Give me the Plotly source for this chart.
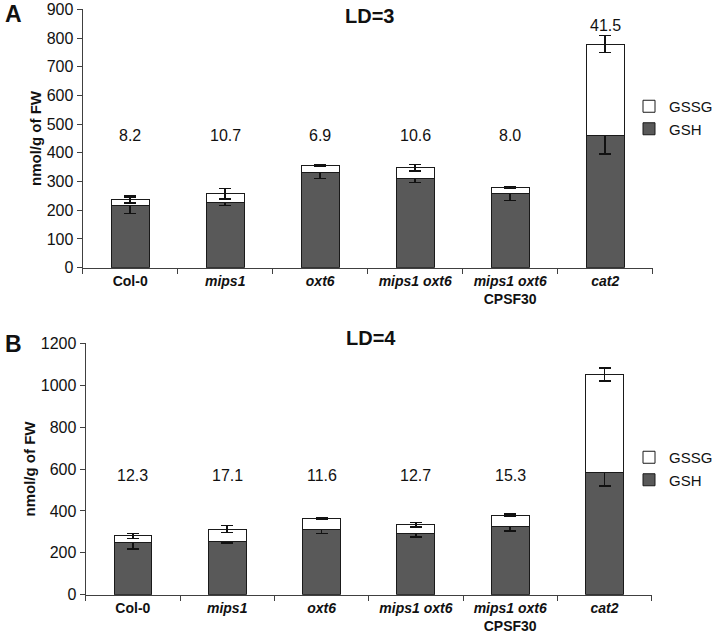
import plotly.graph_objects as go

categories = ["Col-0", "mips1", "oxt6", "mips1 oxt6", "mips1 oxt6 CPSF30", "cat2"]
tick_labels = ["<b>Col-0</b>", "<b><i>mips1</i></b>", "<b><i>oxt6</i></b>",
               "<b><i>mips1 oxt6</i></b>", "<b><i>mips1 oxt6</i></b><br><b>CPSF30</b>",
               "<b><i>cat2</i></b>"]

# Panel A (LD=3)
gsh_a = [218, 226, 332, 311, 257, 460]
gsh_err_a = [29, 10, 21, 15, 23, 64]
gssg_a = [20, 31, 25, 37, 22, 319]
gssg_err_a = [12, 18, 3, 12, 3, 30]
pct_a = [8.2, 10.7, 6.9, 10.6, 8.0, 41.5]

# Panel B (LD=4)
gsh_b = [250, 256, 312, 291, 326, 584]
gsh_err_b = [33, 9, 21, 16, 21, 65]
gssg_b = [31, 57, 50, 43, 54, 467]
gssg_err_b = [12, 17, 4, 11, 4, 32]
pct_b = [12.3, 17.1, 11.6, 12.7, 15.3, 44.9]

W, H = 714, 634
GSH_COLOR = "#595959"
LINE = "#1a1a1a"
FONT = "Arial, Liberation Sans, sans-serif"
TXT = "#111111"

fig = go.Figure()

def add_panel(gsh, gsh_err, gssg, gssg_err, xa, ya, leg):
    fig.add_trace(go.Bar(
        x=categories, y=gsh, name="GSH", xaxis=xa, yaxis=ya, legend=leg,
        marker=dict(color=GSH_COLOR, line=dict(color=LINE, width=1)),
        error_y=dict(type="data", array=gsh_err, color="#111111", thickness=1.5, width=6)))
    fig.add_trace(go.Bar(
        x=categories, y=gssg, name="GSSG", xaxis=xa, yaxis=ya, legend=leg,
        marker=dict(color="white", line=dict(color=LINE, width=1)),
        error_y=dict(type="data", array=gssg_err, color="#111111", thickness=1.5, width=6)))

add_panel(gsh_a, gsh_err_a, gssg_a, gssg_err_a, "x", "y", "legend")
add_panel(gsh_b, gsh_err_b, gssg_b, gssg_err_b, "x2", "y2", "legend2")

def px_x(p):
    return p / W

def px_y(p):
    return 1 - p / H

axis_common = dict(showline=True, linecolor="#404040", linewidth=1.2,
                   ticks="outside", tickcolor="#404040", ticklen=5,
                   showgrid=False, zeroline=False, automargin=False)
ytick_font = dict(family=FONT, size=16, color=TXT)
xtick_font = dict(family=FONT, size=14, color=TXT)
ytitle = dict(text="<b>nmol/g of FW</b>", font=dict(family=FONT, size=15, color=TXT), standoff=1)

fig.update_layout(
    width=W, height=H, barmode="stack", bargap=0.6,
    paper_bgcolor="white", plot_bgcolor="white",
    margin=dict(l=0, r=0, t=0, b=0, autoexpand=False),
    font=dict(family=FONT, color=TXT),
    xaxis=dict(domain=[px_x(82.7), px_x(652.7)], anchor="y", type="category",
               tickson="boundaries", tickvals=categories, ticktext=tick_labels,
               tickfont=xtick_font, **axis_common),
    yaxis=dict(domain=[px_y(267.7), px_y(9.3)], anchor="x", range=[0, 900], dtick=100,
               title=ytitle, tickfont=ytick_font, **axis_common),
    xaxis2=dict(domain=[px_x(85.7), px_x(651.7)], anchor="y2", type="category",
                tickson="boundaries", tickvals=categories, ticktext=tick_labels,
                tickfont=xtick_font, **axis_common),
    yaxis2=dict(domain=[px_y(594.7), px_y(343.3)], anchor="x2", range=[0, 1200], dtick=200,
                title=ytitle, tickfont=ytick_font, **axis_common),
    legend=dict(x=px_x(629), y=px_y(90), xanchor="left", yanchor="top",
                traceorder="reversed", font=dict(family=FONT, size=15, color=TXT),
                bgcolor="rgba(0,0,0,0)", itemwidth=30, tracegroupgap=0),
    legend2=dict(x=px_x(629), y=px_y(441), xanchor="left", yanchor="top",
                 traceorder="reversed", font=dict(family=FONT, size=15, color=TXT),
                 bgcolor="rgba(0,0,0,0)", itemwidth=30, tracegroupgap=0),
)

annotations = []
label_level_a, label_top_a = 459, 845
label_level_b, label_top_b = 571, 1227
for i, c in enumerate(categories):
    ya_pos = label_top_a if i == len(categories) - 1 else label_level_a
    annotations.append(dict(x=c, y=ya_pos, xref="x", yref="y", text=f"{pct_a[i]:.1f}",
                            xanchor="center", yanchor="middle",
                            showarrow=False, font=dict(family=FONT, size=16, color=TXT)))
    yb_pos = label_top_b if i == len(categories) - 1 else label_level_b
    annotations.append(dict(x=c, y=yb_pos, xref="x2", yref="y2", text=f"{pct_b[i]:.1f}",
                            xanchor="center", yanchor="middle",
                            showarrow=False, font=dict(family=FONT, size=16, color=TXT)))

def paper_text(x, y, text, size):
    return dict(x=px_x(x), y=px_y(y), xref="paper", yref="paper", text=text,
                xanchor="center", yanchor="middle", showarrow=False,
                font=dict(family=FONT, size=size, color=TXT))

annotations += [
    paper_text(369, 16, "<b>LD=3</b>", 20),
    paper_text(371, 338, "<b>LD=4</b>", 20),
    paper_text(13, 14, "<b>A</b>", 23),
    paper_text(13, 344, "<b>B</b>", 23),
]
fig.update_layout(annotations=annotations)

fig.write_html("out.html", config={"displayModeBar": False},
               post_script="document.body.style.margin='0';document.body.style.overflow='hidden';")
